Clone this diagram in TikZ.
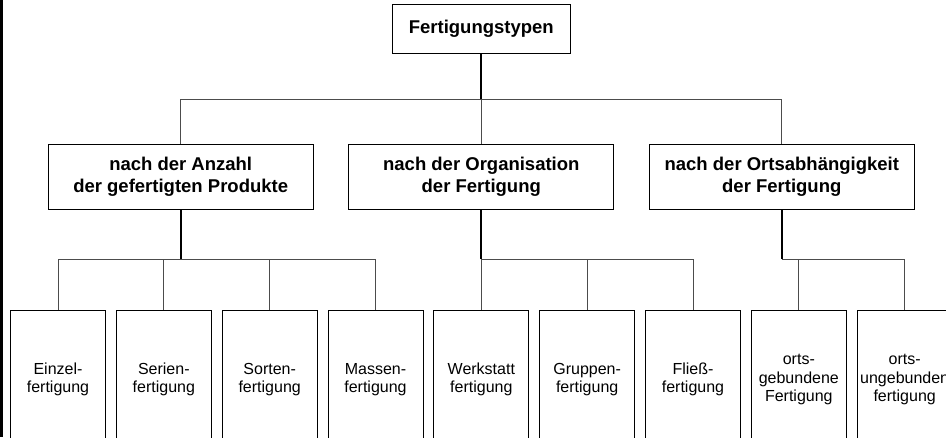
\documentclass[tikz,border=0pt]{standalone}
\usepackage{fontspec}
\setmainfont{Liberation Sans}
\begin{document}
\begin{tikzpicture}[x=1pt,y=-1pt,
  box/.style={draw=black,line width=1pt,inner sep=0pt,align=center,anchor=north},
  headbox/.style={box,minimum width=177.7pt,minimum height=49pt,font=\fontsize{18.5}{22.3}\selectfont\bfseries},
  catbox/.style={box,minimum width=265pt,minimum height=65pt,font=\fontsize{18.5}{22.3}\selectfont\bfseries},
  leafbox/.style={box,minimum width=95pt,minimum height=138pt,font=\fontsize{16}{18.4}\selectfont},
  stem/.style={line width=1.7pt,black},
  link/.style={line width=1pt,black!70,line join=miter}]
\useasboundingbox (0,0) rectangle (946,437);
\clip (0,0) rectangle (946,437);
\fill[black] (0,0) rectangle (3.3,437);

\node[headbox] (top) at (481.3,4) {Fertigungstypen};
\node[catbox] (c1) at (180.7,144) {nach der Anzahl\\der gefertigten Produkte};
\node[catbox] (c2) at (481.3,144) {nach der Organisation\\der Fertigung};
\node[catbox] (c3) at (781.8,144) {nach der Ortsabhängigkeit\\der Fertigung};

\node[leafbox] (l1) at (58,310) {Einzel-\\fertigung};
\node[leafbox] (l2) at (163.83,310) {Serien-\\fertigung};
\node[leafbox] (l3) at (269.67,310) {Sorten-\\fertigung};
\node[leafbox] (l4) at (375.5,310) {Massen-\\fertigung};
\node[leafbox] (l5) at (481.33,310) {Werkstatt\\fertigung};
\node[leafbox] (l6) at (587.17,310) {Gruppen-\\fertigung};
\node[leafbox] (l7) at (693,310) {Fließ-\\fertigung};
\node[leafbox] (l8) at (798.83,310) {orts-\\gebundene\\Fertigung};
\node[leafbox] (l9) at (904.67,310) {orts-\\ungebunden\\fertigung};

\coordinate (busy) at (0,99);
\coordinate (lowy) at (0,259.3);

% upper level
\draw[link] (c1.north) -- (c1.north |- busy) -- (c3.north |- busy) -- (c3.north);
\draw[link] (c2.north) -- (c2.north |- busy);
\draw[stem] (top.south) -- (top.south |- busy);

% group 1
\draw[stem] (c1.south) -- (c1.south |- lowy);
\draw[link] (l1.north) -- (l1.north |- lowy) -- (l4.north |- lowy) -- (l4.north);
\draw[link] (l2.north) -- (l2.north |- lowy);
\draw[link] (l3.north) -- (l3.north |- lowy);

% group 2
\draw[stem] (c2.south) -- (c2.south |- lowy);
\draw[link] (l5.north) -- (l5.north |- lowy) -- (l7.north |- lowy) -- (l7.north);
\draw[link] (l6.north) -- (l6.north |- lowy);

% group 3
\draw[stem] (c3.south) -- (c3.south |- lowy);
\draw[link] (c3.south |- lowy) -- (l9.north |- lowy) -- (l9.north);
\draw[link] (l8.north) -- (l8.north |- lowy);
\end{tikzpicture}
\end{document}
